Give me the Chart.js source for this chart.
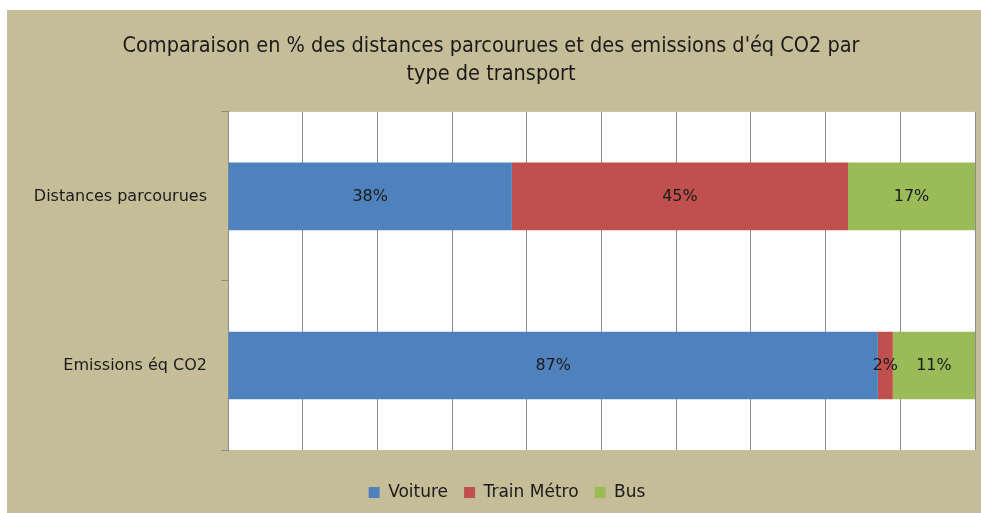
<!DOCTYPE html>
<html>
<head>
<meta charset="utf-8">
<script src="https://cdn.jsdelivr.net/npm/chart.js@4.4.1/dist/chart.umd.min.js"></script>
<style>
  html, body { margin: 0; padding: 0; background: #ffffff; }
  .card_charts { position: absolute; left: 7px; top: 10px; width: 974px; height: 503px; background: #C4BD97; }
</style>
</head>
<body>
<div class="card_charts">
  <canvas id="myChart"></canvas>
</div>
<script>
const categories = ["Distances parcourues", "Emissions éq CO2"];
const voiture = [38, 87];
const trainMetro = [45, 2];
const bus = [17, 11];
const seriesNames = ["Voiture", "Train Métro", "Bus"];
const colors = ["#4F81BD", "#C0504D", "#9BBB59"];

// white plot area
const plotBg = {
  id: "plotBg",
  beforeDraw(chart) {
    const a = chart.chartArea;
    chart.ctx.save();
    chart.ctx.fillStyle = "#ffffff";
    chart.ctx.fillRect(a.left, a.top, a.right - a.left, a.bottom - a.top);
    chart.ctx.restore();
  }
};

// legend sits a bit right of centre in the original
const legendShift = {
  id: "legendShift",
  afterLayout(chart) {
    chart.legend.left += 16;
    chart.legend.right += 16;
  }
};

// writes the % value in the middle of each bar segment
const valueLabels = {
  id: "valueLabels",
  afterDatasetsDraw(chart) {
    const ctx = chart.ctx;
    ctx.save();
    ctx.font = "16px 'DejaVu Sans'";
    ctx.fillStyle = "#1a1a1a";
    ctx.textAlign = "center";
    ctx.textBaseline = "middle";
    chart.data.datasets.forEach((ds, i) => {
      chart.getDatasetMeta(i).data.forEach((bar, j) => {
        const c = bar.getCenterPoint();
        ctx.fillText(ds.data[j] + "%", c.x, c.y);
      });
    });
    ctx.restore();
  }
};

const ctx = document.getElementById("myChart").getContext("2d");
new Chart(ctx, {
  type: "bar",
  data: {
    labels: categories,
    datasets: [
      { label: seriesNames[0], data: voiture, backgroundColor: colors[0] },
      { label: seriesNames[1], data: trainMetro, backgroundColor: colors[1] },
      { label: seriesNames[2], data: bus, backgroundColor: colors[2] }
    ]
  },
  options: {
    indexAxis: "y",
    responsive: true,
    maintainAspectRatio: false,
    animation: false,
    datasets: { bar: { categoryPercentage: 0.4, barPercentage: 1 } },
    layout: { padding: { left: 0, right: 6, top: 0, bottom: 2 } },
    scales: {
      x: {
        stacked: true,
        min: 0,
        max: 100,
        afterFit: (s) => { s.height = 18; },
        ticks: { display: false, stepSize: 10 },
        grid: { color: "#8c8c8c", drawTicks: false },
        border: { display: false }
      },
      y: {
        stacked: true,
        afterFit: (s) => { s.width = 221; },
        ticks: { color: "#1a1a1a", font: { family: "DejaVu Sans", size: 16 }, padding: 14 },
        grid: { drawOnChartArea: false, color: "#8c8c8c", tickLength: 7 },
        border: { color: "#8c8c8c" }
      }
    },
    plugins: {
      title: {
        display: true,
        text: ["Comparaison en % des distances parcourues et des emissions d'éq CO2 par", "type de transport"],
        color: "#1a1a1a",
        font: { family: "'DejaVu Sans Condensed', 'Roboto'", size: 21.5, weight: "normal", lineHeight: 1.3 },
        padding: { top: 22, bottom: 24 }
      },
      legend: {
        position: "bottom",
        labels: { color: "#1a1a1a", boxWidth: 11, boxHeight: 11, font: { family: "DejaVu Sans", size: 17 }, padding: 16 }
      },
      tooltip: { enabled: false }
    }
  },
  plugins: [plotBg, legendShift, valueLabels]
});
</script>
</body>
</html>
